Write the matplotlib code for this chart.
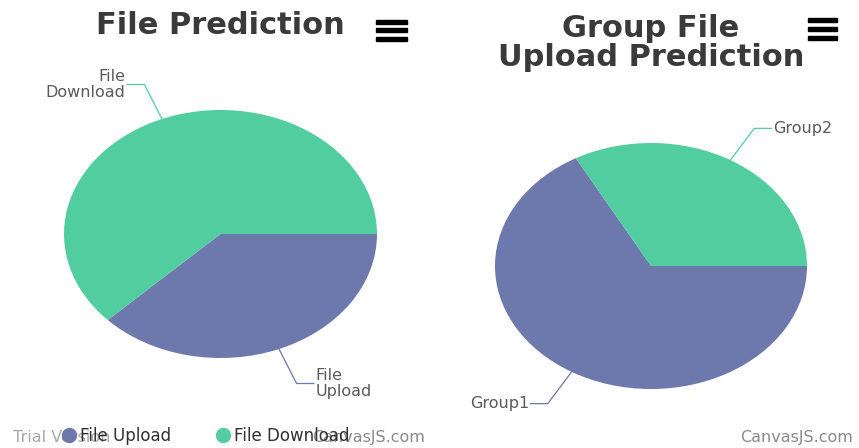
import numpy as np
import matplotlib
matplotlib.use("Agg")
import matplotlib.pyplot as plt
from matplotlib.lines import Line2D
from matplotlib.patches import Rectangle

# data
file_labels = ["File Upload", "File Download"]
file_values = [37.8, 62.2]
group_labels = ["Group1", "Group2"]
group_values = [67, 33]
colors = ["#6D78AD", "#51CDA0"]

W, H = 859, 448
fig = plt.figure(figsize=(W / 100, H / 100), dpi=100)

TITLE_C = "#3A3A3A"
LABEL_C = "#5a5a5a"


def px_axes(x0, y0, x1, y1):
    # axes placed by pixel box (top-left origin)
    return fig.add_axes([x0 / W, 1 - y1 / H, (x1 - x0) / W, (y1 - y0) / H])


def draw_pie(ax, values, labels, label_text):
    wedges, _ = ax.pie(values, colors=colors, startangle=0, counterclock=False,
                       radius=1, wedgeprops=dict(linewidth=0))
    ax.set_xlim(-1, 1)
    ax.set_ylim(-1, 1)
    ax.set_aspect("auto")
    ax.axis("off")
    for w, txt, c in zip(wedges, label_text, colors):
        ang = np.deg2rad((w.theta1 + w.theta2) / 2)
        x0, y0 = np.cos(ang), np.sin(ang)
        x1, y1 = 1.3 * x0, 1.3 * y0
        side = 1 if x0 >= 0 else -1
        x2 = x1 + side * 0.11
        ax.plot([x0, x1, x2], [y0, y1, y1], color=c, lw=0.9, clip_on=False)
        ax.text(x2 + side * 0.01, y1, txt, ha="left" if side > 0 else "right",
                va="center", fontsize=11.5, color=LABEL_C, linespacing=1.05,
                clip_on=False)


ax1 = px_axes(64, 110, 377, 358)
draw_pie(ax1, file_values, file_labels, ["File\nUpload", "File\nDownload"])

ax2 = px_axes(495, 143, 807, 389)
draw_pie(ax2, group_values, group_labels, group_labels)

# titles
fig.text(220 / W, 1 - 26 / H, "File Prediction", ha="center", va="center",
         fontsize=22, fontweight="bold", color=TITLE_C)
fig.text(651 / W, 1 - 43 / H, "Group File\nUpload Prediction", ha="center",
         va="center", fontsize=22, fontweight="bold", color=TITLE_C,
         linespacing=0.98)

# menu icons
for xl, xr, ys in [(376, 407, [20, 28, 37]), (808, 837, [18, 27, 36])]:
    for y in ys:
        fig.patches.append(Rectangle((xl / W, 1 - (y + 4) / H), (xr - xl) / W,
                                     4 / H, transform=fig.transFigure,
                                     color="black"))

# watermarks (overlapped by the legend, as in the original)
fig.text(13 / W, 1 - 437 / H, "Trial Version", ha="left", va="center",
         fontsize=11.5, color="#a8a8a8")
fig.text(425 / W, 1 - 437 / H, "CanvasJS.com", ha="right", va="center",
         fontsize=11.5, color="#8a8a8a")
fig.text(853 / W, 1 - 437 / H, "CanvasJS.com", ha="right", va="center",
         fontsize=11.5, color="#8a8a8a")

# legend
handles = [Line2D([], [], marker="o", ls="", color=c, markersize=10) for c in colors]
fig.legend(handles, file_labels, loc="center left",
           bbox_to_anchor=(46 / W, 1 - 436 / H), ncol=2, frameon=False,
           fontsize=12, handletextpad=0.15, columnspacing=2.6,
           handlelength=1.0, labelcolor="#303030")

fig.savefig("out.png", dpi=100)
